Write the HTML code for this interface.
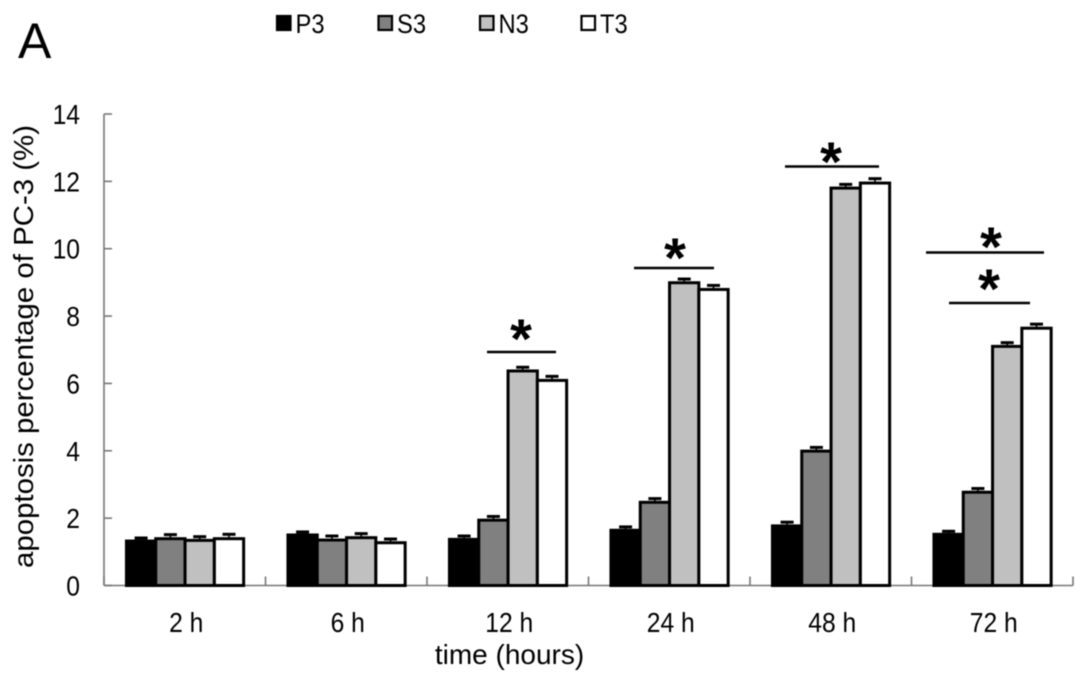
<!DOCTYPE html>
<html lang="en">
<head>
<meta charset="utf-8">
<title>Apoptosis percentage of PC-3</title>
<style>
html,body{margin:0;padding:0;background:#fff;}
svg{display:block;filter:blur(.45px);}
text{font-family:"Liberation Sans",Arial,sans-serif;fill:#000;}
</style>
</head>
<body>
<svg id="chart" width="1087" height="684" viewBox="0 0 1087 684" xmlns="http://www.w3.org/2000/svg">
  <rect width="1087" height="684" fill="#fff"/>
  <text x="18" y="58" font-size="50">A</text>
  <text transform="translate(33,346.5) rotate(-90)" text-anchor="middle" font-size="28" textLength="443" lengthAdjust="spacingAndGlyphs">apoptosis percentage of PC-3 (%)</text>
  <text x="509.5" y="664" text-anchor="middle" font-size="28">time (hours)</text>
  <g id="axes"></g>
  <g id="bars"></g>
  <g id="legend"></g>
  <g stroke="#000" stroke-width="2.4">
    <line x1="487" y1="352" x2="556" y2="352"/>
    <line x1="634" y1="268" x2="714" y2="268"/>
    <line x1="785" y1="166.5" x2="879" y2="166.5"/>
    <line x1="926" y1="252.5" x2="1044" y2="252.5"/>
    <line x1="949" y1="303" x2="1030" y2="303"/>
  </g>
  <g font-size="56" text-anchor="middle" font-weight="bold">
    <text x="521" y="358">*</text>
    <text x="675" y="277">*</text>
    <text x="831" y="181">*</text>
    <text x="991" y="266">*</text>
    <text x="989" y="308">*</text>
  </g>
</svg>
<script>
const categories = ['2 h', '6 h', '12 h', '24 h', '48 h', '72 h'];
const seriesNames = ['P3', 'S3', 'N3', 'T3'];
const p3Values = [1.32, 1.50, 1.37, 1.64, 1.77, 1.52];
const s3Values = [1.39, 1.35, 1.94, 2.47, 3.99, 2.77];
const n3Values = [1.34, 1.42, 6.37, 8.99, 11.80, 7.10];
const t3Values = [1.39, 1.27, 6.09, 8.79, 11.95, 7.64];
const p3Errors = [0.09, 0.09, 0.10, 0.10, 0.11, 0.09];
const s3Errors = [0.12, 0.12, 0.11, 0.11, 0.11, 0.11];
const n3Errors = [0.11, 0.12, 0.11, 0.11, 0.11, 0.11];
const t3Errors = [0.13, 0.11, 0.12, 0.12, 0.13, 0.12];
const yTicks = [0, 2, 4, 6, 8, 10, 12, 14];

const seriesValues = [p3Values, s3Values, n3Values, t3Values];
const seriesErrors = [p3Errors, s3Errors, n3Errors, t3Errors];
const seriesFills = ['#000', '#808080', '#c0c0c0', '#fff'];

const NS = 'http://www.w3.org/2000/svg';
const axisLeft = 104, axisRight = 1073, axisBottom = 585.5, axisTop = 114;
const yMax = 14;
const barWidth = 29.3;
const groupShift = 0.3;
const labelSquash = 0.88;
const groupStep = (axisRight - axisLeft) / categories.length;
const yScale = v => axisBottom - (v / yMax) * (axisBottom - axisTop);
const xBand = i => axisLeft + groupStep * i;
const xBar = (i, s) => xBand(i) + groupStep / 2 + groupShift + (s - seriesNames.length / 2) * barWidth;
const squashed = (x, y) => 'translate(' + x + ',' + y + ') scale(' + labelSquash + ',1)';

function make(tag, parent, attrs, text) {
  const el = document.createElementNS(NS, tag);
  for (const k in attrs) el.setAttribute(k, attrs[k]);
  if (text !== undefined) el.textContent = text;
  parent.appendChild(el);
  return el;
}

const axes = document.getElementById('axes');
const axisStyle = {stroke: '#777', 'stroke-width': 1.6};
const yAxis = make('line', axes, {x1: axisLeft, y1: axisTop, x2: axisLeft, y2: axisBottom, ...axisStyle});


const xAxis = make('line', axes, {x1: axisLeft, y1: axisBottom, x2: axisRight, y2: axisBottom, ...axisStyle});



yTicks.forEach(t => {
  const tick = make('line', axes, {x1: axisLeft, y1: yScale(t), x2: axisLeft + 8, y2: yScale(t), ...axisStyle});
  
  
  const label = make('text', axes, {transform: squashed(80, yScale(t) + 10), 'text-anchor': 'end', 'font-size': 28}, String(t));
  
  
});

for (let i = 0; i <= categories.length; i++) {
  const tick = make('line', axes, {x1: xBand(i), y1: axisBottom, x2: xBand(i), y2: axisBottom - 9, ...axisStyle});
  
  
}
categories.forEach((c, i) => {
  const label = make('text', axes, {transform: squashed(xBand(i) + groupStep / 2 + 1.5, 632), 'text-anchor': 'middle', 'font-size': 28}, c);
  
  
});

const bars = document.getElementById('bars');
seriesValues.forEach((vals, s) => {
  vals.forEach((v, i) => {
    const x = xBar(i, s);
    const cx = x + barWidth / 2;
    const hi = yScale(v + seriesErrors[s][i]);
    const stem = make('line', bars, {x1: cx, y1: yScale(v), x2: cx, y2: hi, stroke: '#000', 'stroke-width': 1.6});
    
    
    const cap = make('line', bars, {x1: cx - 6.5, y1: hi, x2: cx + 6.5, y2: hi, stroke: '#000', 'stroke-width': 3});
    
    
    const bar = make('rect', bars, {x: x, y: yScale(v), width: barWidth, height: axisBottom - yScale(v), fill: seriesFills[s], stroke: '#000', 'stroke-width': 3});
    
    
  });
});

const legend = document.getElementById('legend');
seriesNames.forEach((n, s) => {
  const lx = 277 + s * 101.5;
  const swatch = make('rect', legend, {x: lx, y: 16, width: 13.5, height: 14, fill: seriesFills[s], stroke: '#000', 'stroke-width': 2.2});
  
  
  const label = make('text', legend, {transform: squashed(lx + 18.5, 33), 'font-size': 27}, n);
  
  
});
</script>
</body>
</html>
